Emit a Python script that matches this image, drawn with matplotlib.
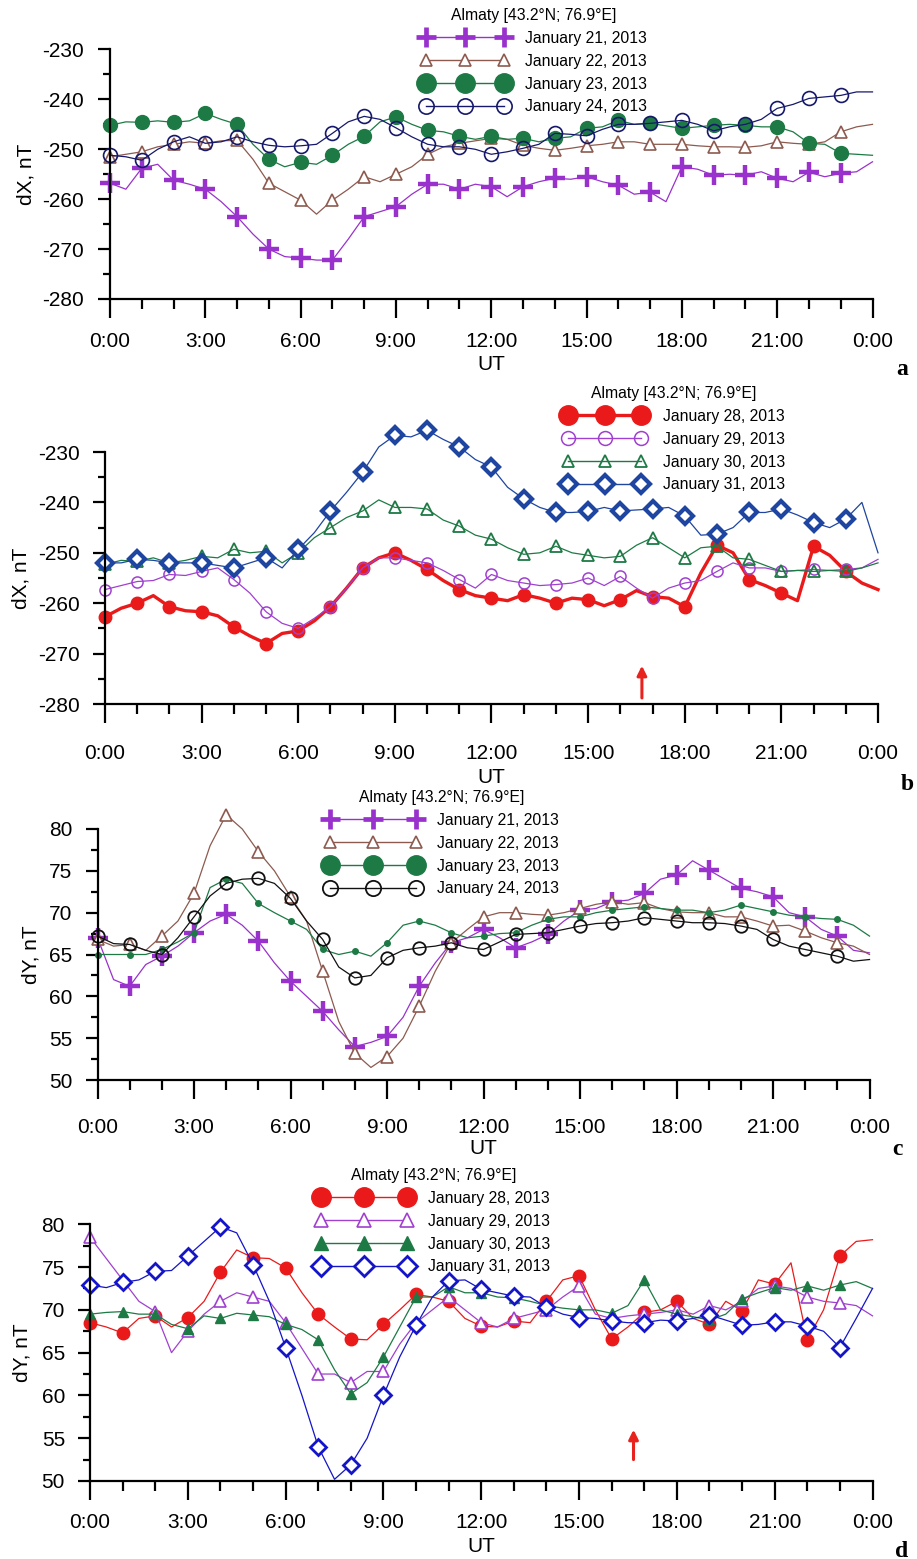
import matplotlib
matplotlib.use('Agg')
import matplotlib.pyplot as plt
from matplotlib.lines import Line2D
from matplotlib.font_manager import FontProperties
import numpy as np

plt.rcParams['font.family'] = ['Liberation Sans', 'DejaVu Sans']
plt.rcParams['axes.unicode_minus'] = False

# ---------------- data (30-min steps) ----------------
hours = [h * 0.5 for h in range(49)]
xtick_major = [0, 3, 6, 9, 12, 15, 18, 21, 24]
xtick_labels = ["0:00", "3:00", "6:00", "9:00", "12:00", "15:00", "18:00", "21:00", "0:00"]
station = "Almaty [43.2°N; 76.9°E]"

# panel a : dX, January 21-24
a_labels = ["January 21, 2013", "January 22, 2013", "January 23, 2013", "January 24, 2013"]
a_jan21 = [-256.8, -258.0, -253.8, -253.0, -256.2, -257.0, -258.0, -260.5, -263.5, -267.0, -270.0, -271.5,
           -271.8, -272.2, -272.2, -268.0, -263.5, -262.5, -261.5, -259.0, -257.0, -257.0, -258.0, -257.0,
           -257.5, -259.5, -257.5, -256.5, -255.8, -256.0, -255.5, -256.5, -257.2, -259.0, -258.6, -260.5,
           -253.5, -254.0, -255.2, -255.0, -255.2, -254.5, -255.8, -256.5, -254.6, -255.5, -254.8, -254.5, -252.5]
a_jan22 = [-251.5, -251.0, -250.5, -249.5, -249.0, -248.5, -248.8, -248.3, -248.2, -252.0, -256.8, -258.5,
           -260.2, -263.0, -260.2, -258.0, -255.5, -256.5, -255.0, -253.5, -251.0, -249.5, -248.8, -248.3,
           -247.8, -248.0, -249.2, -249.8, -250.2, -249.8, -249.3, -249.0, -248.5, -248.5, -249.0, -249.0,
           -249.0, -249.3, -249.5, -249.5, -249.6, -249.3, -248.5, -248.8, -249.0, -248.5, -246.5, -245.5, -245.0]
a_jan23 = [-245.2, -244.5, -244.6, -244.3, -244.6, -244.3, -242.8, -244.0, -245.0, -249.0, -252.0, -253.5,
           -252.6, -253.0, -251.2, -249.0, -247.4, -244.5, -243.5, -245.0, -246.2, -246.5, -247.4, -248.0,
           -247.4, -248.0, -247.8, -248.5, -247.8, -247.5, -245.8, -245.5, -244.2, -245.0, -244.8, -245.3,
           -245.8, -245.5, -245.2, -245.0, -245.2, -245.5, -245.5, -246.5, -248.8, -249.0, -250.8, -251.0, -251.2]
a_jan24 = [-251.2, -251.5, -252.2, -250.0, -248.5, -247.5, -248.8, -248.5, -247.5, -248.5, -249.2, -249.5,
           -249.3, -249.0, -246.8, -244.5, -243.4, -244.0, -245.7, -247.5, -249.0, -249.5, -249.5, -250.0,
           -251.0, -250.5, -249.8, -249.0, -246.8, -247.0, -247.3, -246.0, -245.0, -245.0, -244.8, -244.5,
           -244.2, -245.0, -246.3, -245.5, -245.0, -244.0, -241.8, -241.0, -239.8, -239.5, -239.2, -238.5, -238.5]

# panel b : dX, January 28-31
b_labels = ["January 28, 2013", "January 29, 2013", "January 30, 2013", "January 31, 2013"]
b_jan28 = [-262.7, -261.0, -260.0, -258.5, -260.7, -261.5, -261.7, -262.5, -264.7, -266.5, -268.0, -266.0,
           -265.5, -263.5, -260.7, -257.0, -253.0, -251.0, -250.0, -251.5, -253.3, -255.5, -257.3, -258.5,
           -259.0, -259.5, -258.3, -259.0, -260.0, -259.0, -259.3, -260.5, -259.3, -257.5, -258.7, -259.0,
           -260.7, -254.0, -248.5, -250.0, -255.3, -256.5, -258.0, -259.5, -248.7, -250.5, -253.7, -256.0, -257.3]
b_jan29 = [-257.3, -256.5, -255.7, -255.5, -254.3, -254.5, -253.7, -253.0, -255.3, -258.0, -261.7, -264.0,
           -265.0, -263.0, -260.7, -257.0, -253.0, -251.0, -251.0, -251.5, -252.0, -253.5, -255.3, -257.0,
           -254.3, -255.5, -256.0, -256.5, -256.3, -256.0, -255.0, -256.5, -254.7, -257.0, -259.0, -257.0,
           -256.0, -255.5, -253.7, -252.0, -253.0, -253.0, -253.7, -253.5, -253.3, -253.5, -253.3, -253.0, -251.3]
b_jan30 = [-252.3, -251.5, -251.7, -251.0, -252.0, -251.5, -250.7, -251.0, -249.3, -250.0, -249.7, -252.0,
           -250.0, -247.0, -245.0, -243.0, -241.7, -239.5, -241.0, -241.0, -241.3, -243.5, -244.7, -246.5,
           -247.3, -249.0, -250.3, -250.0, -248.7, -250.0, -250.5, -251.0, -250.7, -248.5, -247.0, -249.0,
           -251.0, -249.0, -248.7, -251.0, -251.3, -252.5, -253.7, -253.5, -253.7, -253.5, -253.7, -253.0, -252.0]
b_jan31 = [-252.0, -252.0, -251.3, -251.5, -252.0, -252.0, -252.0, -252.5, -253.0, -252.0, -251.0, -253.0,
           -249.3, -246.0, -241.7, -238.0, -234.0, -229.0, -226.7, -227.0, -225.7, -227.5, -229.0, -231.5,
           -233.0, -237.0, -239.3, -241.0, -242.0, -242.0, -241.8, -241.0, -241.7, -241.5, -241.3, -241.0,
           -242.7, -246.5, -246.3, -245.0, -242.0, -242.0, -241.3, -242.5, -244.0, -245.0, -243.3, -240.0, -250.0]

# panel c : dY, January 21-24
c_labels = ["January 21, 2013", "January 22, 2013", "January 23, 2013", "January 24, 2013"]
c_jan21 = [67.0, 62.0, 61.2, 63.8, 64.8, 66.0, 67.6, 69.0, 69.8, 68.5, 66.6, 64.0, 61.8, 60.0, 58.2, 56.0,
           54.0, 54.5, 55.2, 57.5, 61.2, 64.0, 66.4, 67.0, 68.0, 67.0, 65.8, 66.5, 67.4, 69.0, 70.3, 70.5,
           71.3, 71.5, 72.3, 74.0, 74.5, 76.2, 75.1, 74.0, 72.9, 72.5, 71.9, 70.0, 69.5, 68.0, 67.2, 65.5, 65.2]
c_jan22 = [66.8, 66.0, 66.2, 65.5, 67.2, 69.0, 72.3, 78.0, 81.7, 80.0, 77.3, 75.0, 71.9, 69.0, 63.0, 57.0,
           53.2, 51.5, 52.8, 55.0, 58.8, 63.0, 66.4, 68.0, 69.5, 70.0, 70.0, 69.8, 69.7, 70.0, 70.5, 71.0,
           71.3, 71.0, 71.2, 70.5, 70.1, 70.0, 70.0, 69.5, 69.5, 69.0, 68.4, 68.5, 67.8, 67.0, 66.4, 66.0, 65.0]
c_jan23 = [65.0, 65.0, 65.0, 65.0, 65.6, 66.5, 67.6, 73.0, 74.0, 73.5, 71.1, 70.0, 69.0, 68.0, 65.6, 65.0,
           65.4, 64.8, 66.4, 68.5, 69.0, 68.5, 67.6, 67.0, 67.2, 67.5, 67.6, 68.5, 69.2, 69.5, 69.5, 70.0,
           70.3, 70.5, 70.7, 70.5, 70.3, 70.3, 70.0, 70.3, 70.9, 70.5, 70.1, 69.7, 69.5, 69.3, 69.2, 68.5, 67.2]
c_jan24 = [67.2, 66.3, 66.2, 65.5, 65.0, 67.0, 69.5, 72.0, 73.5, 74.0, 74.1, 73.5, 71.7, 69.0, 66.8, 63.5,
           62.2, 62.5, 64.6, 65.5, 65.8, 66.0, 66.4, 65.8, 65.6, 66.5, 67.4, 67.5, 67.6, 68.0, 68.4, 68.7,
           68.8, 69.0, 69.4, 69.2, 69.0, 68.8, 68.8, 68.7, 68.4, 68.0, 66.8, 66.0, 65.6, 65.2, 64.8, 64.2, 64.4]

# panel d : dY, January 28-31
d_labels = ["January 28, 2013", "January 29, 2013", "January 30, 2013", "January 31, 2013"]
d_jan28 = [68.5, 68.0, 67.3, 69.0, 69.3, 68.0, 69.1, 71.0, 74.4, 77.0, 76.1, 76.0, 74.9, 72.0, 69.5, 68.0,
           66.6, 66.5, 68.3, 70.0, 71.8, 71.5, 71.0, 69.0, 68.1, 68.0, 68.7, 68.5, 71.0, 73.5, 74.0, 70.0,
           66.6, 68.0, 69.7, 70.0, 71.0, 69.0, 68.3, 71.0, 69.9, 73.5, 73.0, 75.5, 66.5, 70.0, 76.3, 78.0, 78.2]
d_jan29 = [78.5, 76.0, 73.5, 71.0, 69.8, 65.0, 67.5, 69.5, 71.0, 72.0, 71.5, 71.0, 68.5, 65.5, 62.5, 62.5,
           61.5, 62.8, 62.8, 66.0, 68.5, 70.0, 71.5, 70.0, 68.5, 68.0, 69.0, 69.5, 70.0, 71.5, 72.8, 69.5,
           69.0, 69.3, 69.5, 69.7, 70.0, 69.5, 70.5, 70.0, 71.0, 72.5, 72.8, 72.5, 71.5, 71.0, 70.8, 70.5, 69.3]
d_jan30 = [69.5, 69.7, 69.8, 69.5, 69.5, 68.3, 67.8, 69.3, 69.0, 69.6, 69.4, 69.2, 68.3, 67.7, 66.5, 63.0,
           60.2, 61.5, 64.5, 68.0, 71.5, 71.5, 72.7, 72.0, 72.0, 71.5, 71.4, 71.0, 70.5, 70.2, 70.0, 70.0,
           69.6, 70.5, 73.5, 70.0, 69.5, 69.2, 68.8, 69.5, 71.3, 72.0, 72.6, 72.3, 72.8, 72.3, 72.9, 73.3, 72.5]
d_jan31 = [72.9, 72.6, 73.2, 73.5, 74.5, 74.6, 76.3, 78.0, 79.7, 79.0, 75.3, 71.0, 65.6, 60.0, 54.0, 50.2,
           51.9, 55.0, 60.0, 64.5, 68.2, 71.5, 73.4, 73.5, 72.4, 72.0, 71.6, 71.5, 70.3, 69.5, 69.1, 69.0,
           68.7, 68.5, 68.5, 68.8, 68.7, 69.0, 69.4, 68.8, 68.2, 68.3, 68.6, 68.6, 68.1, 67.5, 65.6, 69.0, 72.5]

dx_ticks = [-280, -270, -260, -250, -240, -230]
dx_ticklabels = ["-280", "-270", "-260", "-250", "-240", "-230"]
dy_ticks = [50, 55, 60, 65, 70, 75, 80]
dy_ticklabels = ["50", "55", "60", "65", "70", "75", "80"]
arrow_time = 16.67

# ---------------- styles ----------------
PURPLE = '#9932CC'
BROWN = '#8C5A4F'
GREEN = '#1D7A45'
NAVY = '#16196B'
RED = '#EA1A1A'
VIOLET = '#A040D0'
BLUE_B = '#1E45A0'
BLUE_D = '#1414C8'
BLACK = '#111111'

# (color, lw, plot-marker kwargs, legend-marker kwargs)
styles_a = [
    (PURPLE, 0.9, dict(marker='+', ms=14, mew=3.2, mec=PURPLE), dict(marker='+', ms=14, mew=3.4, mec=PURPLE)),
    (BROWN, 0.9, dict(marker='^', ms=8, mfc='white', mec=BROWN, mew=1.2), dict(marker='^', ms=8, mfc='white', mec=BROWN, mew=1.2)),
    (GREEN, 0.9, dict(marker='o', ms=10, mfc=GREEN, mec=GREEN), dict(marker='o', ms=14, mfc=GREEN, mec=GREEN)),
    (NAVY, 0.9, dict(marker='o', ms=10, mfc='none', mec=NAVY, mew=1.2), dict(marker='o', ms=11, mfc='none', mec=NAVY, mew=1.2)),
]
styles_b = [
    (RED, 2.4, dict(marker='o', ms=9, mfc=RED, mec=RED), dict(marker='o', ms=14, mfc=RED, mec=RED)),
    (VIOLET, 0.9, dict(marker='o', ms=8, mfc='none', mec=VIOLET, mew=1.1), dict(marker='o', ms=10, mfc='none', mec=VIOLET, mew=1.1)),
    (GREEN, 0.9, dict(marker='^', ms=9, mfc='none', mec=GREEN, mew=1.3), dict(marker='^', ms=9, mfc='none', mec=GREEN, mew=1.3)),
    (BLUE_B, 0.9, dict(marker='D', ms=8, mfc='white', mec=BLUE_B, mew=3.0), dict(marker='D', ms=9, mfc='white', mec=BLUE_B, mew=3.0)),
]
styles_c = [
    (PURPLE, 0.9, dict(marker='+', ms=14, mew=3.2, mec=PURPLE), dict(marker='+', ms=14, mew=3.4, mec=PURPLE)),
    (BROWN, 0.9, dict(marker='^', ms=9, mfc='white', mec=BROWN, mew=1.2), dict(marker='^', ms=9, mfc='white', mec=BROWN, mew=1.2)),
    (GREEN, 0.9, dict(marker='o', ms=4, mfc=GREEN, mec=GREEN), dict(marker='o', ms=14, mfc=GREEN, mec=GREEN)),
    (BLACK, 0.9, dict(marker='o', ms=9, mfc='none', mec=BLACK, mew=1.3), dict(marker='o', ms=11, mfc='none', mec=BLACK, mew=1.3)),
]
styles_d = [
    (RED, 0.9, dict(marker='o', ms=9, mfc=RED, mec=RED), dict(marker='o', ms=14, mfc=RED, mec=RED)),
    (VIOLET, 0.9, dict(marker='^', ms=8, mfc='white', mec=VIOLET, mew=1.2), dict(marker='^', ms=10, mfc='white', mec=VIOLET, mew=1.2)),
    (GREEN, 0.9, dict(marker='^', ms=7, mfc=GREEN, mec=GREEN), dict(marker='^', ms=10, mfc=GREEN, mec=GREEN)),
    (BLUE_D, 0.9, dict(marker='D', ms=8, mfc='white', mec=BLUE_D, mew=2.0), dict(marker='D', ms=10, mfc='white', mec=BLUE_D, mew=2.0)),
]

W, H = 917, 1559
fig = plt.figure(figsize=(W / 100, H / 100), dpi=100)

leg_font = FontProperties(family=['Liberation Sans', 'DejaVu Sans'], size=11.3)

panels = [
    dict(series=[a_jan21, a_jan22, a_jan23, a_jan24], labels=a_labels, styles=styles_a,
         ylim=(-280, -230), ticks=dx_ticks, tlabels=dx_ticklabels, ylabel='dX, nT',
         box=(110, 872.5, 49.5, 299), leg=(421, 8, 5.6), xpad=9.9, ypad=10.5, ylx=26, uty=365,
         letter='a', lxy=(902, 375), arrow=None),
    dict(series=[b_jan28, b_jan29, b_jan30, b_jan31], labels=b_labels, styles=styles_b,
         ylim=(-280, -230), ticks=dx_ticks, tlabels=dx_ticklabels, ylabel='dX, nT',
         box=(105, 878, 452, 704), leg=(563, 386, 5.3), xpad=15.0, ypad=9.4, ylx=21, uty=778,
         letter='b', lxy=(907, 790), arrow=(-278.8, -272.4)),
    dict(series=[c_jan21, c_jan22, c_jan23, c_jan24], labels=c_labels, styles=styles_c,
         ylim=(50, 80), ticks=dy_ticks, tlabels=dy_ticklabels, ylabel='dY, nT',
         box=(97.5, 869.5, 829, 1080), leg=(325, 790, 6.1), xpad=13.5, ypad=9.4, ylx=31, uty=1149,
         letter='c', lxy=(897, 1155), arrow=None),
    dict(series=[d_jan28, d_jan29, d_jan30, d_jan31], labels=d_labels, styles=styles_d,
         ylim=(50, 80), ticks=dy_ticks, tlabels=dy_ticklabels, ylabel='dY, nT',
         box=(90, 872.5, 1224.3, 1481), leg=(316, 1168, 6.1), xpad=9.1, ypad=9.4, ylx=22, uty=1546,
         letter='d', lxy=(902, 1557), arrow=(52.5, 56.0)),
]

for p in panels:
    l, r, t, b = p['box']
    ax = fig.add_axes([l / W, 1 - b / H, (r - l) / W, (b - t) / H])
    handles = []
    for ys, lab, (col, lw, mk, lmk) in zip(p['series'], p['labels'], p['styles']):
        ax.plot(hours, ys, color=col, lw=lw, markevery=slice(0, 48, 2), clip_on=False, **mk)
        handles.append(Line2D([], [], color=col, lw=lw if lw > 1.5 else 1.0, **lmk))
    ax.set_xlim(0, 24)
    ax.set_ylim(*p['ylim'])
    for s in ('top', 'right'):
        ax.spines[s].set_visible(False)
    for s in ('left', 'bottom'):
        ax.spines[s].set_linewidth(1.6)
    ax.set_xticks(xtick_major)
    ax.set_xticklabels(xtick_labels)
    ax.set_xticks(list(range(25)), minor=True)
    ax.set_yticks(p['ticks'])
    ax.set_yticklabels(p['tlabels'])
    ax.set_yticks([v + (p['ticks'][1] - p['ticks'][0]) / 2 for v in p['ticks'][:-1]], minor=True)
    ax.tick_params(axis='x', which='major', length=13.7, width=1.6, labelsize=15, pad=p['xpad'], colors='black')
    ax.tick_params(axis='x', which='minor', length=7.2, width=1.6)
    ax.tick_params(axis='y', which='major', length=8.6, width=1.6, labelsize=15, pad=p['ypad'])
    ax.tick_params(axis='y', which='minor', length=5.0, width=1.6)

    fig.text(p['ylx'] / W, 1 - ((t + b) / 2) / H, p['ylabel'], rotation=90, ha='center', va='center', fontsize=15)
    fig.text(((l + r) / 2) / W, 1 - p['uty'] / H, 'UT', ha='center', va='center', fontsize=15)
    fig.text(p['lxy'][0] / W, 1 - p['lxy'][1] / H, p['letter'], ha='center', va='baseline',
             family=['Liberation Serif', 'DejaVu Serif'], fontweight='bold', fontsize=17)

    lx, ly, hl = p['leg']
    ax.legend(handles=handles, labels=p['labels'], loc='upper left', bbox_to_anchor=(lx / W, 1 - ly / H),
              bbox_transform=fig.transFigure, frameon=False, numpoints=3, handlelength=hl,
              handletextpad=1.05, labelspacing=0.5, borderpad=0, borderaxespad=0,
              prop=leg_font, title=station, title_fontproperties=leg_font)

    if p['arrow'] is not None:
        y0, y1 = p['arrow']
        ax.annotate('', xy=(arrow_time, y1), xytext=(arrow_time, y0),
                    arrowprops=dict(arrowstyle='-|>', color='#E8231E', lw=2.2, mutation_scale=14,
                                    shrinkA=0, shrinkB=0), annotation_clip=False)

fig.savefig('out.png', dpi=100, facecolor='white')
